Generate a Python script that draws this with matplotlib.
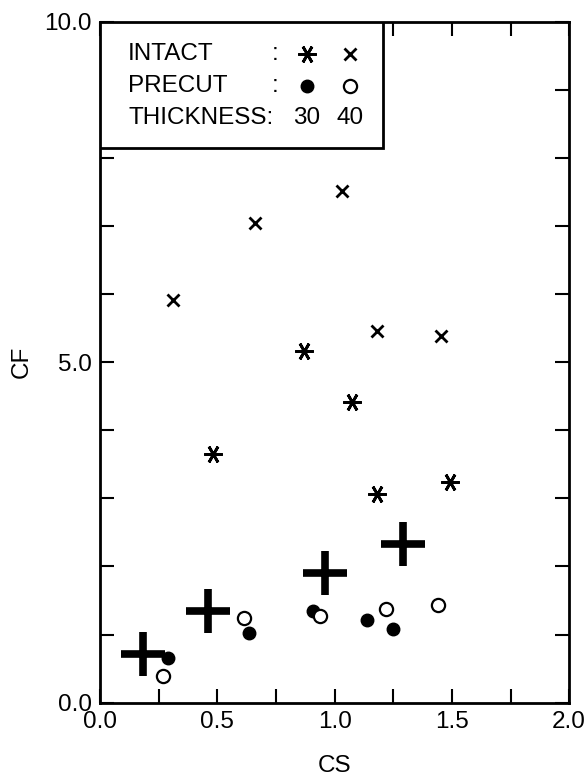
import matplotlib.pyplot as plt
from matplotlib.patches import Rectangle

plt.rcParams['font.family'] = ['Liberation Sans', 'DejaVu Sans']

# intact, thickness 30 (asterisk)
intact30_cs = [0.48, 0.87, 1.075, 1.18, 1.49]
intact30_cf = [3.65, 5.16, 4.41, 3.07, 3.24]
# intact, thickness 40 (x)
intact40_cs = [0.31, 0.66, 1.03, 1.18, 1.455]
intact40_cf = [5.92, 7.05, 7.52, 5.46, 5.39]
# precut, thickness 30 (filled circle)
precut30_cs = [0.29, 0.635, 0.91, 1.14, 1.25]
precut30_cf = [0.66, 1.02, 1.34, 1.21, 1.08]
# precut, thickness 40 (open circle)
precut40_cs = [0.27, 0.615, 0.94, 1.22, 1.44]
precut40_cf = [0.39, 1.24, 1.27, 1.38, 1.44]
# big crosses
cross_cs = [0.185, 0.46, 0.96, 1.29]
cross_cf = [0.72, 1.35, 1.90, 2.33]

FS = 17.5
star = (6, 2, 30)   # six-armed asterisk with a horizontal arm

fig = plt.figure(figsize=(5.88, 7.79), dpi=100)
ax = fig.add_axes([0.170, 0.098, 0.798, 0.874])

ax.plot(intact30_cs, intact30_cf, ls='none', marker=star,
        ms=13, mew=2, color='black')
ax.plot(intact40_cs, intact40_cf, ls='none', marker='x',
        ms=9, mew=2, color='black')
ax.plot(precut30_cs, precut30_cf, ls='none', marker='o',
        ms=9, color='black')
ax.plot(precut40_cs, precut40_cf, ls='none', marker='o',
        ms=9.5, mfc='white', mec='black', mew=1.6)
ax.plot(cross_cs, cross_cf, ls='none', marker='+',
        ms=32, mew=5.5, color='black')

ax.set_xlim(0, 2)
ax.set_ylim(0, 10)
ax.set_xticks([0, 0.25, 0.5, 0.75, 1.0, 1.25, 1.5, 1.75, 2.0])
ax.set_xticklabels(['0.0', '', '0.5', '', '1.0', '', '1.5', '', '2.0'])
ax.set_yticks(range(11))
ax.set_yticklabels(['0.0', '', '', '', '', '5.0', '', '', '', '', '10.0'])
ax.tick_params(direction='in', length=10, width=1.5, labelsize=FS,
               top=True, right=True, pad=6)
for s in ax.spines.values():
    s.set_linewidth(2)

ax.set_xlabel('CS', fontsize=FS, labelpad=16)
ax.set_ylabel('CF', fontsize=FS, labelpad=8)

# legend box in the upper left corner
box_h = 0.186
ax.add_patch(Rectangle((0, 1 - box_h), 0.604, box_h, transform=ax.transAxes,
                       fc='white', ec='black', lw=2, zorder=3))
rows = [('INTACT', 0.953), ('PRECUT', 0.905), ('THICKNESS:', 0.858)]
for txt, yy in rows:
    ax.text(0.06, yy, txt, transform=ax.transAxes, fontsize=FS,
            va='center', zorder=4)
for yy in (0.953, 0.905):
    ax.text(0.373, yy, ':', transform=ax.transAxes, fontsize=FS,
            va='center', ha='center', zorder=4)
ax.plot([0.441], [0.953], transform=ax.transAxes, marker=star,
        ms=13, mew=2, color='black', zorder=4)
ax.plot([0.533], [0.953], transform=ax.transAxes, marker='x',
        ms=9, mew=2, color='black', zorder=4)
ax.plot([0.441], [0.905], transform=ax.transAxes, marker='o',
        ms=9, color='black', zorder=4)
ax.plot([0.533], [0.905], transform=ax.transAxes, marker='o',
        ms=9.5, mfc='white', mec='black', mew=1.6, zorder=4)
ax.text(0.441, 0.858, '30', transform=ax.transAxes, fontsize=FS,
        va='center', ha='center', zorder=4)
ax.text(0.533, 0.858, '40', transform=ax.transAxes, fontsize=FS,
        va='center', ha='center', zorder=4)

fig.savefig('out.png', dpi=100)
